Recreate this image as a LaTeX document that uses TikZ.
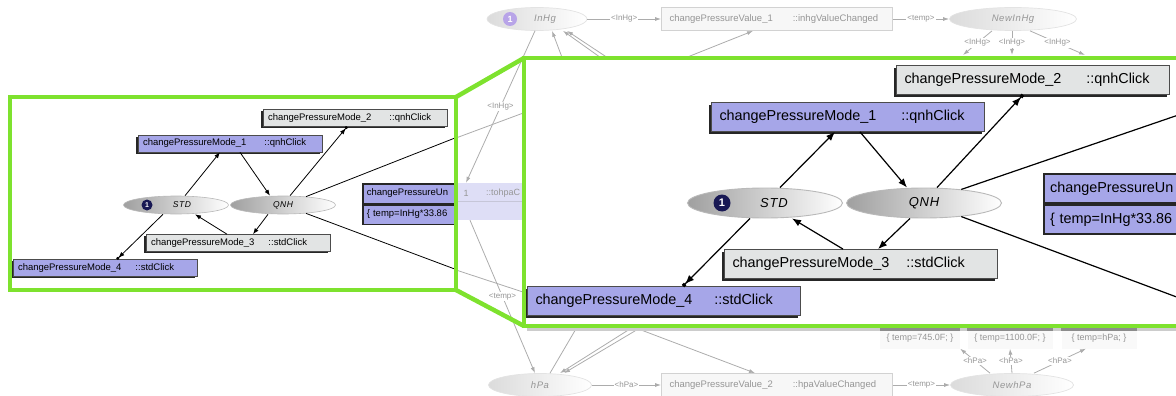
\documentclass[tikz,border=0pt]{standalone}
\usepackage{fontspec}
\setmainfont{Liberation Sans}
\newfontfamily\statefont[LetterSpace=6.0]{Liberation Sans}
\usetikzlibrary{arrows.meta,shapes.geometric,shadows}

\definecolor{lensgreen}{RGB}{126,226,46}
\definecolor{modeblue}{RGB}{166,166,232}
\definecolor{modegray}{RGB}{226,228,228}
\definecolor{badgenavy}{RGB}{24,24,84}
\definecolor{badgefade}{RGB}{184,164,232}
\definecolor{fadeline}{RGB}{172,172,172}
\definecolor{fadetext}{RGB}{150,150,150}
\definecolor{fadeblue}{RGB}{222,222,246}

\tikzset{
  lens/.style={draw=lensgreen,line width=4.5pt},
  modebase/.style={rectangle,draw=black!70,align=left,inner ysep=0pt},
  bigmode/.style={modebase,line width=0.8pt,text width=257pt,inner xsep=8pt,minimum height=29pt,
    font=\fontsize{14.4}{16}\selectfont,
    drop shadow={shadow xshift=-2.5pt,shadow yshift=-2.5pt,opacity=1,fill=black!85}},
  smallmode/.style={modebase,line width=0.6pt,text width=174pt,inner xsep=5pt,minimum height=17pt,
    font=\fontsize{9.5}{11}\selectfont,
    drop shadow={shadow xshift=-1.6pt,shadow yshift=-1.6pt,opacity=1,fill=black!85}},
  bluefill/.style={fill=modeblue},
  grayfill/.style={fill=modegray},
  statebase/.style={ellipse,draw=gray!55,left color=gray!75,right color=white,inner sep=0pt},
  bigstate/.style={statebase,line width=0.9pt,minimum width=155pt,minimum height=30pt,
    font=\statefont\itshape\fontsize{13}{15}\selectfont},
  smallstate/.style={statebase,line width=0.6pt,minimum width=105pt,minimum height=18pt,
    font=\statefont\itshape\fontsize{8.5}{10}\selectfont},
  bigbadge/.style={circle,fill=badgenavy,text=white,inner sep=0pt,minimum size=17pt,
    font=\bfseries\fontsize{11}{12}\selectfont},
  smallbadge/.style={circle,fill=badgenavy,text=white,inner sep=0pt,minimum size=11pt,
    font=\bfseries\fontsize{7}{8}\selectfont},
  cpubox/.style={rectangle,draw=black!85,line width=2.2pt,fill=modeblue,anchor=north west,
    text width=200pt,align=left,inner xsep=6pt,inner ysep=0pt,minimum height=29pt,
    font=\fontsize{14.4}{16}\selectfont},
  smallcpu/.style={cpubox,line width=1.5pt,text width=130pt,inner xsep=4pt,minimum height=19.5pt,
    font=\fontsize{9.5}{11}\selectfont},
  arr/.style={-{Latex[length=9pt,width=7pt]},line width=1.2pt},
  arrsq/.style={-{Latex[length=9pt,width=7pt]Square[length=3pt,width=3.5pt]},line width=1.2pt},
  bigline/.style={line width=1.2pt},
  sarr/.style={-{Latex[length=6pt,width=4.5pt]},line width=0.8pt},
  sarrsq/.style={-{Latex[length=6pt,width=4.5pt]Square[length=2pt,width=2.5pt]},line width=0.8pt},
  smallline/.style={line width=0.8pt},
  fadestate/.style={ellipse,draw=gray!22,line width=0.7pt,left color=gray!28,right color=white,
    inner sep=0pt,minimum height=23pt,text=fadetext,font=\statefont\itshape\fontsize{9.5}{11}\selectfont},
  fadebadge/.style={circle,fill=badgefade,text=white,inner sep=0pt,minimum size=14pt,
    font=\bfseries\fontsize{9}{10}\selectfont},
  fadebox/.style={rectangle,draw=gray!35,line width=0.8pt,fill=gray!6,text=fadetext,text width=215pt,
    align=left,inner xsep=8pt,inner ysep=0pt,minimum height=23pt,font=\fontsize{9.5}{11}\selectfont},
  fadevbox/.style={rectangle,fill=gray!5,text=fadetext,inner xsep=5pt,inner ysep=0pt,
    minimum height=21pt,font=\fontsize{9}{10}\selectfont},
  fadetxt/.style={text=fadetext,inner sep=0pt,font=\fontsize{9}{10}\selectfont},
  fadearr/.style={-{Latex[length=6pt,width=4pt]},draw=fadeline,line width=0.8pt},
  fadeplain/.style={draw=fadeline,line width=0.8pt},
  fadelabel/.style={fill=white,inner sep=1pt,text=fadetext,font=\fontsize{8}{9}\selectfont},
}

\begin{document}
\begin{tikzpicture}[x=1pt,y=-1pt]
\useasboundingbox (0,0) rectangle (1176,396);

\node[fadestate,minimum width=100pt] (inhg) at (537,19) {\hspace{16pt}InHg};
\node[fadebadge] (b0) at (510,19) {1};
\node[fadebox] (cpv1) at (777,19) {changePressureValue\_1\hspace{20pt}::inhgValueChanged};
\node[fadestate,minimum width=127pt] (newinhg) at (1013,19) {NewInHg};
\draw[fadearr] (inhg.east) -- node[fadelabel] {<InHg>} (cpv1.west);
\draw[fadearr] (cpv1.east) -- node[fadelabel] {<temp>} (newinhg.west);
\coordinate (t1) at (963,55);
\coordinate (t2) at (1012,55);
\coordinate (t3) at (1085,55);
\draw[fadearr] ([xshift=-21pt]newinhg.south) -- node[fadelabel] {<InHg>} (t1);
\draw[fadearr] ([xshift=-1pt]newinhg.south) -- node[fadelabel] {<InHg>} (t2);
\draw[fadearr] ([xshift=17pt]newinhg.south) -- node[fadelabel] {<InHg>} (t3);

\node[rectangle,fill=fadeblue,minimum width=110pt,minimum height=37pt,inner sep=0pt] (fcpu) at (500,201.5) {};
\draw[gray!25!fadeblue,line width=1.5pt] (fcpu.west) -- (fcpu.east);
\node[fadetxt] (fcpu1) at (466,193) {1};
\node[fadetxt,anchor=west] (fcpu2) at (486,193) {::tohpaC};
\draw[fadearr] ([xshift=-2pt]inhg.south) -- node[fadelabel] {<InHg>} ([xshift=-34pt]fcpu.north);
\coordinate (u1) at (563,60);
\coordinate (u2) at (604,60);
\coordinate (u3) at (611,60);
\coordinate (u4) at (680,60);
\draw[fadearr] (u1) -- ([xshift=15pt]inhg.south);
\draw[fadearr] (u2) -- ([xshift=26pt]inhg.south);
\draw[fadearr] (u3) -- ([xshift=30pt]inhg.south);
\draw[fadearr] (u4) -- ([xshift=-24pt]cpv1.south);
\coordinate (g1) at (456,138);
\coordinate (g2) at (526,112);
\coordinate (g3) at (456,270);
\coordinate (g4) at (526,293);
\draw[fadeplain] (g1) -- (g2);
\draw[fadeplain] (g3) -- (g4);

\node[fadestate,minimum width=103pt] (hpa) at (540,385) {hPa};
\node[fadebox] (cpv2) at (777,385) {changePressureValue\_2\hspace{20pt}::hpaValueChanged};
\node[fadestate,minimum width=123pt] (newhpa) at (1012,385) {NewhPa};
\draw[fadearr] (hpa.east) -- node[fadelabel] {<hPa>} (cpv2.west);
\draw[fadearr] (cpv2.east) -- node[fadelabel] {<temp>} (newhpa.west);
\draw[fadearr] ([xshift=-30pt]fcpu.south) -- node[fadelabel] {<temp>} ([xshift=-5pt]hpa.north);
\node[fadevbox,minimum width=80pt] (v1) at (920,338) {\{ temp=745.0F; \}};
\node[fadevbox,minimum width=85pt] (v2) at (1010,338) {\{ temp=1100.0F; \}};
\node[fadevbox,minimum width=75pt] (v3) at (1099,338) {\{ temp=hPa; \}};
\draw[fadearr] ([xshift=-22pt]newhpa.north) -- node[fadelabel] {<hPa>} (v1.south east);
\draw[fadearr] (newhpa.north) -- node[fadelabel] {<hPa>} (v2.south);
\draw[fadearr] ([xshift=22pt]newhpa.north) -- node[fadelabel] {<hPa>} ([xshift=-13pt]v3.south);
\coordinate (h1) at (580,322);
\coordinate (h2) at (641,322);
\coordinate (h3) at (650,322);
\coordinate (h4) at (620,322);
\draw[fadeplain] ([xshift=10pt]hpa.north) -- (h1);
\draw[fadearr] (h2) -- ([xshift=20pt]hpa.north);
\draw[fadearr] (h3) -- ([xshift=24pt]hpa.north);
\draw[fadearr] (h4) -- ([xshift=-22pt]cpv2.north);

\draw[gray!40,line width=3pt] (527,329.5) -- (1195,329.5);
\draw[black!45,line width=3pt] ([yshift=-2pt]v1.north west) -- ([yshift=-2pt]v1.north east);
\draw[black!45,line width=3pt] ([yshift=-2pt]v2.north west) -- ([yshift=-2pt]v2.north east);
\draw[black!45,line width=3pt] ([yshift=-2pt]v3.north west) -- ([yshift=-2pt]v3.north east);

\fill[white] (524,58) rectangle (1195,326);
\begin{scope}
\clip (524,58) rectangle (1195,326);
\node[bigmode,grayfill] (m2) at (1033,80) {changePressureMode\_2\hspace{25pt}::qnhClick};
\node[bigmode,bluefill] (m1) at (848,117) {changePressureMode\_1\hspace{25pt}::qnhClick};
\node[bigstate] (std) at (765,203) {\hspace{18pt}STD};
\node[bigbadge] (b1) at (722,203) {1};
\node[bigstate] (qnh) at (924,203) {QNH};
\node[bigmode,grayfill] (m3) at (861,264) {changePressureMode\_3\hspace{17pt}::stdClick};
\node[bigmode,bluefill] (m4) at (664,301) {changePressureMode\_4\hspace{22pt}::stdClick};
\node[cpubox] (cpua) at (1043,173) {changePressureUn};
\node[cpubox] (cpub) at (cpua.south west) {\{ temp=InHg*33.86};
\draw[arr] ([xshift=15pt]std.north) -- ([xshift=-13pt]m1.south);
\draw[arr] ([xshift=12pt]m1.south) -- ([xshift=-17pt]qnh.north);
\draw[arrsq] ([xshift=13pt]qnh.north) -- ([xshift=-10pt]m2.south);
\draw[arr] ([xshift=-14pt]qnh.south) -- ([xshift=17pt]m3.north);
\draw[arr] ([xshift=-18pt]m3.north) -- ([xshift=27pt]std.south);
\draw[arrsq] ([xshift=-15pt]std.south) -- ([xshift=19pt]m4.north);
\coordinate (qa) at (1190,111);
\coordinate (qb) at (1190,302);
\draw[bigline] (qnh.20) -- (qa);
\draw[bigline] (qnh.-20) -- (qb);
\end{scope}
\draw[lens] (524,58) rectangle (1195,326);

\fill[white] (10,97) rectangle (456,290);
\begin{scope}
\clip (10,97) rectangle (456,290);
\node[smallmode,grayfill] (s2) at (355,118) {changePressureMode\_2\hspace{18pt}::qnhClick};
\node[smallmode,bluefill] (s1) at (230,143.5) {changePressureMode\_1\hspace{18pt}::qnhClick};
\node[smallstate] (sstd) at (176,205) {\hspace{12pt}STD};
\node[smallbadge] (sb1) at (147,205) {1};
\node[smallstate] (sqnh) at (283,205) {QNH};
\node[smallmode,grayfill] (s3) at (238,243) {changePressureMode\_3\hspace{14pt}::stdClick};
\node[smallmode,bluefill] (s4) at (105,268) {changePressureMode\_4\hspace{14pt}::stdClick};
\node[smallcpu] (scpua) at (362,183) {changePressureUn};
\node[smallcpu] (scpub) at (scpua.south west) {\{ temp=InHg*33.86};
\draw[sarr] ([xshift=9pt]sstd.north) -- ([xshift=-10pt]s1.south);
\draw[sarr] ([xshift=10pt]s1.south) -- ([xshift=-13pt]sqnh.north);
\draw[sarrsq] ([xshift=7pt]sqnh.north) -- ([xshift=-8pt]s2.south);
\draw[sarr] ([xshift=-15pt]sqnh.south) -- ([xshift=15pt]s3.north);
\draw[sarr] ([xshift=-11pt]s3.north) -- ([xshift=19pt]sstd.south);
\draw[sarrsq] ([xshift=-13pt]sstd.south) -- ([xshift=12pt]s4.north);
\coordinate (sqa) at (460,136);
\coordinate (sqb) at (460,271);
\draw[smallline] (sqnh.20) -- (sqa);
\draw[smallline] (sqnh.-20) -- (sqb);
\end{scope}
\draw[lens] (10,97) rectangle (456,290);

\coordinate (sfa) at (456,97);
\coordinate (sfb) at (456,290);
\coordinate (bfa) at (524,58);
\coordinate (bfb) at (524,326);
\draw[lens] (sfa) -- (bfa);
\draw[lens] (sfb) -- (bfb);
\end{tikzpicture}
\end{document}
